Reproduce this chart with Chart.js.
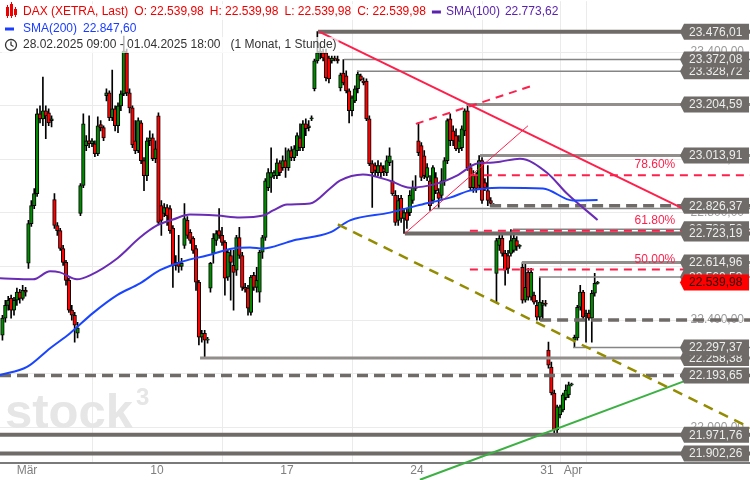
<!DOCTYPE html>
<html>
<head>
<meta charset="utf-8">
<script src="https://cdn.jsdelivr.net/npm/chart.js@4.4.1/dist/chart.umd.min.js"></script>
<style>
	html, body { margin: 0; padding: 0; background: #fff; }
	#wrap { width: 750px; height: 480px; }
</style>
</head>
<body>
<div id="wrap"><canvas id="dax"></canvas></div>
<script>
const FONT = '"Liberation Sans", Arial, sans-serif';

// DAX (XETRA), 1-Stunden-Kerzen 28.02.2025 09:00 - 01.04.2025 18:00, 9 Kerzen pro Tag
const opens = [
	22344, 22407, 22455, 22481, 22437, 22474, 22504, 22481, 22511, // 28.02
	22612, 22760, 22827, 22872, 23170, 23151, 23181, 23173, 23144, // 03.03
	22850, 22753, 22734, 22667, 22615, 22548, 22437, 22418, 22351, // 04.03
	22798, 22902, 23051, 23069, 23058, 23058, 23021, 23129, 23118, // 05.03
	23237, 23248, 23155, 23188, 23125, 23199, 23244, 23397, 23248, // 06.03
	23192, 23069, 23032, 23136, 22995, 22939, 23069, 23080, 23002, // 07.03
	23162, 22827, 22798, 22820, 22816, 22742, 22604, 22615, 22600, // 10.03
	22679, 22772, 22727, 22705, 22667, 22541, 22336, 22351, 22325, // 11.03
	22519, 22649, 22697, 22734, 22716, 22690, 22560, 22641, 22604, // 12.03
	22586, 22708, 22641, 22522, 22519, 22429, 22567, 22522, 22504, // 13.03
	22653, 22708, 22894, 22932, 22939, 22939, 22987, 22969, 22995, // 14.03
	22969, 23032, 23006, 23032, 23080, 23043, 23132, 23118, 23151, // 17.03
	23263, 23367, 23397, 23397, 23397, 23378, 23367, 23378, 23374, // 18.03
	23266, 23322, 23311, 23255, 23181, 23218, 23263, 23311, 23292, // 19.03
	23292, 23151, 22984, 22976, 22950, 22976, 22965, 22950, 22987, // 20.03
	22920, 22865, 22772, 22854, 22779, 22801, 22801, 22846, 22891, // 21.03
	23069, 23051, 23013, 22932, 22920, 22846, 22932, 22876, 22865, // 24.03
	22920, 22995, 23151, 23106, 23088, 23039, 23043, 23106, 23181, // 25.03
	22969, 22894, 22939, 22902, 22995, 22913, 22883, 22846, 22830, // 26.03
	22574, 22679, 22705, 22649, 22641, 22649, 22660, 22697, 22675, // 27.03
	22597, 22474, 22578, 22485, 22493, 22455, 22411, 22455, 22463, // 28.03
	22288, 22225, 22128, 21990, 22046, 22065, 22110, 22121, 22158, // 31.03
	22325, 22333, 22448, 22504, 22418, 22426, 22407, 22500, 22537  // 01.04
];
const highs = [
	22418, 22474, 22489, 22493, 22485, 22519, 22515, 22530, 22522,
	22772, 22846, 22891, 23188, 23199, 23307, 23199, 23188, 23162,
	22872, 22764, 22742, 22679, 22623, 22556, 22455, 22429, 22392,
	22909, 23170, 23088, 23162, 23077, 23069, 23158, 23144, 23125,
	23263, 23255, 23333, 23199, 23211, 23255, 23460, 23411, 23263,
	23199, 23144, 23155, 23144, 23006, 23080, 23106, 23095, 23069,
	23173, 22846, 22835, 22831, 22827, 22753, 22641, 22716, 22630,
	22835, 22786, 22738, 22712, 22679, 22548, 22362, 22362, 22336,
	22615, 22723, 22734, 22816, 22746, 22697, 22660, 22660, 22660,
	22716, 22746, 22653, 22537, 22530, 22567, 22578, 22597, 22660,
	22716, 22928, 22965, 23043, 22958, 23002, 22995, 23013, 23043,
	23039, 23047, 23051, 23099, 23132, 23144, 23151, 23144, 23162,
	23374, 23476.01, 23434, 23411, 23411, 23385, 23385, 23385, 23385,
	23322, 23372.08, 23330, 23263, 23237, 23274, 23328.72, 23318, 23304,
	23300, 23162, 22995, 22987, 22995, 22987, 22976, 23013, 23043,
	22995, 22883, 22865, 22865, 22816, 22816, 22883, 22920, 22939,
	23136, 23062, 23032, 22984, 22939, 22976, 22950, 22891, 22965,
	23006, 23151, 23170, 23125, 23114, 23088, 23125, 23188, 23204.59,
	22984, 22958, 22950, 23013.91, 23006, 22928, 22976, 22857, 22835,
	22705, 22716, 22716, 22660, 22660, 22738, 22716, 22712, 22682,
	22614.96, 22612, 22593, 22593, 22504, 22474, 22560, 22474, 22474,
	22318, 22243, 22139, 22083, 22083, 22128, 22158, 22169, 22165,
	22344, 22455, 22530, 22511, 22437, 22437, 22511, 22574, 22545
];
const lows = [
	22325, 22392, 22437, 22407, 22418, 22455, 22463, 22474, 22489,
	22593, 22749, 22816, 22861, 23136, 23125, 23077, 23125, 23121,
	22742, 22716, 22660, 22604, 22530, 22429, 22400, 22318, 22333,
	22790, 22894, 23032, 23043, 23047, 23010, 23013, 23106, 23069,
	23218, 23144, 23144, 23106, 23099, 23181, 23237, 23237, 23173,
	23043, 23021, 23025, 22984, 22883, 22920, 23051, 22995, 22987,
	22757, 22716, 22786, 22753, 22723, 22522, 22586, 22578, 22586,
	22667, 22705, 22686, 22649, 22511, 22307, 22318, 22258.38, 22314,
	22504, 22612, 22679, 22705, 22679, 22493, 22548, 22474, 22437,
	22567, 22630, 22511, 22504, 22418, 22418, 22511, 22504, 22467,
	22630, 22697, 22883, 22876, 22928, 22928, 22939, 22958, 22932,
	22958, 22995, 22995, 23013, 23032, 23032, 23088, 23106, 23144,
	23255, 23359, 23374, 23367, 23292, 23285, 23359, 23367, 23359,
	23255, 23277, 23248, 23136, 23162, 23211, 23248, 23292, 23277,
	23144, 22976, 22820, 22939, 22939, 22932, 22939, 22939, 22976,
	22865, 22753, 22753, 22764, 22723.19, 22742, 22790, 22835, 22883,
	23013, 22920, 22928, 22920, 22809, 22835, 22872, 22820, 22854,
	22902, 22984, 23051, 23051, 23032, 23025, 23032, 23088, 22958,
	22883, 22876, 22876, 22891, 22835, 22883, 22827, 22824, 22826.37,
	22467, 22660, 22638, 22530, 22574, 22638, 22653, 22660, 22667,
	22463, 22467, 22474, 22474, 22459, 22400, 22400, 22400, 22452,
	22221, 22121, 21971.76, 21979, 22035, 22057, 22102, 22110, 22154,
	22297.37, 22325, 22437, 22400, 22318, 22400, 22318, 22489, 22534
];
const closes = [
	22407, 22455, 22474, 22437, 22474, 22504, 22481, 22511, 22504,
	22760, 22827, 22872, 23170, 23151, 23181, 23162, 23136, 23151,
	22753, 22734, 22667, 22615, 22548, 22437, 22418, 22381, 22370,
	22902, 23132, 23069, 23058, 23069, 23021, 23125, 23118, 23080,
	23248, 23155, 23188, 23125, 23199, 23244, 23404, 23248, 23192,
	23054, 23032, 23144, 22995, 22939, 23069, 23080, 23002, 23039,
	22764, 22772, 22820, 22790, 22734, 22604, 22615, 22600, 22612,
	22779, 22716, 22697, 22660, 22541, 22336, 22351, 22325, 22329,
	22612, 22705, 22723, 22716, 22690, 22556, 22653, 22615, 22578,
	22708, 22641, 22522, 22515, 22444, 22560, 22522, 22548, 22653,
	22708, 22920, 22950, 22950, 22950, 22987, 22950, 22995, 22969,
	23032, 23006, 23039, 23088, 23043, 23132, 23114, 23125, 23155,
	23367, 23397, 23404, 23378, 23304, 23300, 23378, 23374, 23367,
	23315, 23285, 23255, 23181, 23229, 23263, 23318, 23296, 23285,
	23151, 22984, 22950, 22958, 22976, 22950, 22954, 22995, 23013,
	22872, 22764, 22846, 22779, 22801, 22772, 22865, 22894, 22894,
	23025, 22932, 22939, 22969, 22827, 22969, 22883, 22854, 22920,
	22995, 23144, 23069, 23069, 23039, 23069, 23114, 23181, 22969,
	22894, 22939, 22891, 22995, 22846, 22894, 22846, 22835, 22828,
	22697, 22705, 22649, 22586, 22593, 22697, 22705, 22675, 22677,
	22474, 22522, 22485, 22578, 22467, 22411, 22467, 22463, 22459,
	22232, 22128, 21990, 22076, 22076, 22121, 22139, 22158, 22162,
	22336, 22448, 22504, 22411, 22426, 22407, 22500, 22537, 22539.98
];

// Achse: Tagesanfang (Kerzen-Index)
const tickValues = [9, 54, 99, 144, 189, 198];
const tickLabels = ['Mär', '10', '17', '24', '31', 'Apr'];

// gleitende Durchschnitte
const sma100X = [-0.35, 11.1, 17.0, 20.4, 26.3, 30.8, 40.2, 48.1, 54.0, 59.5, 65.4, 74.8, 82.7, 90.7, 94.2, 99.0, 107.0, 113.9, 117.3, 125.3, 134.6, 141.6, 150.9, 157.8, 164.8, 169.3, 172.7, 179.6, 189.0, 195.9, 206.5];
const sma100Y = [22556, 22552, 22582, 22578, 22552, 22567, 22630, 22708, 22753, 22775, 22794, 22790, 22783, 22790, 22809, 22831, 22835, 22891, 22920, 22943, 22920, 22894, 22909, 22939, 22984, 22987, 22991, 23002, 22950, 22872, 22773.62];
const sma200X = [-0.35, 9.0, 17.0, 23.9, 31.8, 40.2, 48.1, 55.0, 63.0, 71.3, 80.3, 86.2, 90.7, 99.0, 101.1, 113.9, 120.8, 134.6, 144.0, 155.4, 162.3, 172.7, 187.6, 198.0, 206.5];
const sma200Y = [22195, 22225, 22295, 22351, 22426, 22493, 22537, 22586, 22619, 22641, 22667, 22671, 22667, 22690, 22697, 22727, 22772, 22801, 22827, 22857, 22883, 22894, 22891, 22846, 22847.60];

// horizontale Marken
const levelPrices = [23476.01, 23372.08, 23328.72, 23204.59, 23013.91, 22826.37, 22816, 22738.52, 22723.19, 22614.96, 22560.53, 22400, 22297.37, 22258.38, 22193.65, 21971.76, 21902.26];
const levelStarts = [109.7, 118.7, 123.2, 161.3, 165.8, 169.3, 149.5, 177.2, 139.8, 180.3, 186.2, 186.6, 198.0, 68.9, -0.35, -0.35, -0.35];
const levelKinds = ['heavy', 'thin', 'thin', 'mid', 'mid', 'dash', 'thin', 'thin', 'heavy', 'mid', 'thin', 'dash', 'thin', 'mid', 'dash', 'heavy', 'heavy'];

// Preis-Schilder rechts (verdeckte zuerst)
const tagPrices = [23328.72, 22738.52, 22560.53, 22258.38, 23476.01, 23372.08, 23204.59, 23013.91, 22826.37, 22723.19, 22614.96, 22297.37, 22193.65, 21971.76, 21902.26];

// Fibonacci
const fibPrices = [22940.81, 22733.64, 22588.30];
const fibLabels = ['78.60%', '61.80%', '50.00%'];
const fibStart = 162.3;

// Trendlinien
const resistX = [110.1, 236.8], resistY = [23476.01, 22812];
const riseX = [139.8, 182.4], riseY = [22723.19, 23125];
const channelX = [143.6, 183.8], channelY = [23132, 23274];
const oliveX = [116.6, 259.3], oliveY = [22757, 21998];
const greenX = [145.0, 236.8], greenY = [21804, 22173];

const X_MIN = -0.346, X_MAX = 259.26;
const Y_MIN = 21866.7, Y_MAX = 23589.8;

function fmt(v) {
	let [a, b] = v.toFixed(2).split('.');
	a = a.replace(/\B(?=(\d{3})+(?!\d))/g, '.');
	return a + ',' + b;
}
function pts(xs, ys) { return xs.map((x, i) => ({ x: x, y: ys[i] })); }

const levelStyle = {
	heavy: { color: '#6f6b68', width: 4, dash: [] },
	mid: { color: '#918e8b', width: 3, dash: [] },
	thin: { color: '#858585', width: 1.5, dash: [] },
	dash: { color: '#6f6b68', width: 3.5, dash: [11, 6] }
};
const RED = '#ff1f4b';

const candleWicks = lows.map((l, i) => ({ x: i + 0.5, y: [l, highs[i]] }));
const candleBodies = opens.map((o, i) => ({ x: i + 0.5, y: [o, closes[i]] }));
const bodyColors = opens.map((o, i) => closes[i] >= o ? '#008a00' : '#ff0000');

function lineSet(data, color, width, dash, order, extra) {
	return Object.assign({
		type: 'line', data: data, borderColor: color, borderWidth: width, borderDash: dash || [],
		pointRadius: 0, fill: false, tension: 0, order: order
	}, extra || {});
}

const datasets = [
	{ type: 'bar', data: candleWicks, backgroundColor: '#000', barThickness: 1, grouped: false, order: 20 },
	{ type: 'bar', data: candleBodies, backgroundColor: bodyColors, borderColor: '#000', borderWidth: 1,
		borderSkipped: false, barThickness: 3.6, grouped: false, minBarLength: 1, order: 19 }
];
levelPrices.forEach((p, i) => {
	const s = levelStyle[levelKinds[i]];
	datasets.push(lineSet([{ x: levelStarts[i], y: p }, { x: X_MAX, y: p }], s.color, s.width, s.dash, 6));
});
fibPrices.forEach(p => {
	datasets.push(lineSet([{ x: fibStart, y: p }, { x: X_MAX, y: p }], RED, 2, [8, 6], 5));
});
datasets.push(lineSet(pts(sma200X, sma200Y), '#1a45ff', 2, [], 4, { cubicInterpolationMode: 'monotone' }));
datasets.push(lineSet(pts(sma100X, sma100Y), '#6a2bb5', 2, [], 4, { cubicInterpolationMode: 'monotone' }));
datasets.push(lineSet(pts(resistX, resistY), RED, 2, [], 3));
datasets.push(lineSet(pts(riseX, riseY), RED, 1, [], 3));
datasets.push(lineSet(pts(channelX, channelY), RED, 2, [8, 6], 3));
datasets.push(lineSet(pts(oliveX, oliveY), '#948c00', 2.5, [10, 7], 3));
datasets.push(lineSet(pts(greenX, greenY), '#3cb043', 2, [], 3, { clip: false }));

// Wasserzeichen
const watermark = {
	id: 'watermark',
	beforeDatasetsDraw(chart) {
		const ctx = chart.ctx, a = chart.chartArea;
		ctx.save();
		ctx.fillStyle = '#e6e6e6';
		ctx.textBaseline = 'alphabetic';
		ctx.font = 'bold 49px ' + FONT;
		ctx.fillText('stock', a.left + 5, a.bottom - 35);
		const w = ctx.measureText('stock').width;
		ctx.font = 'bold 24px ' + FONT;
		ctx.fillText('3', a.left + 8 + w, a.bottom - 58);
		ctx.restore();
	}
};

function drawTag(ctx, y, text, fill, color, right) {
	const x0 = right - 66, x1 = right - 1, h = 16;
	ctx.beginPath();
	ctx.moveTo(x0 - 4, y);
	ctx.lineTo(x0, y - h / 2);
	ctx.lineTo(x1, y - h / 2);
	ctx.lineTo(x1, y + h / 2);
	ctx.lineTo(x0, y + h / 2);
	ctx.closePath();
	ctx.fillStyle = fill;
	ctx.fill();
	ctx.fillStyle = color;
	ctx.textAlign = 'left';
	ctx.textBaseline = 'middle';
	ctx.fillText(text, x0 + 5, y + 0.5);
}

// Schilder, Fibonacci-Texte, Legende
const overlay = {
	id: 'overlay',
	afterDatasetsDraw(chart) {
		const ctx = chart.ctx, ys = chart.scales.y, xs = chart.scales.x;
		const right = chart.chartArea.right;
		ctx.save();
		ctx.font = '12px ' + FONT;
		fibPrices.forEach((p, i) => {
			ctx.fillStyle = RED;
			ctx.textAlign = 'right';
			ctx.textBaseline = 'middle';
			ctx.fillText(fibLabels[i], xs.getPixelForValue(233.4), ys.getPixelForValue(p) - 10);
		});
		tagPrices.forEach(p => drawTag(ctx, ys.getPixelForValue(p), fmt(p), '#6f6b68', '#eeeeee', right));
		const last = closes[closes.length - 1];
		drawTag(ctx, ys.getPixelForValue(last), fmt(last), '#ff0000', '#2a0000', right);
		ctx.restore();
	},
	afterDraw(chart) {
		const ctx = chart.ctx;
		const last = closes[closes.length - 1];
		ctx.save();
		ctx.font = '12px ' + FONT;
		ctx.textBaseline = 'middle';
		ctx.textAlign = 'left';
		const red = '#ee0000', purple = '#5b22b0', blue = '#1a3cff';
		const line1 = [['DAX (XETRA, Last)', red], ['O: ' + fmt(last), red], ['H: ' + fmt(last), red],
			['L: ' + fmt(last), red], ['C: ' + fmt(last), red]];
		function segWidth(segs, gap) {
			let w = 0;
			segs.forEach(s => { w += ctx.measureText(s[0]).width + gap; });
			return w;
		}
		// Zeile 1
		let x = 23, y = 12;
		const w1 = segWidth(line1, 6);
		const smaTxt = 'SMA(100)', smaVal = fmt(sma100Y[sma100Y.length - 1]);
		const w1b = 14 + ctx.measureText(smaTxt).width + 5 + ctx.measureText(smaVal).width;
		ctx.fillStyle = 'rgba(255,255,255,0.72)';
		ctx.fillRect(2, y - 8, x + w1 + w1b - 2, 16);
		line1.forEach(s => { ctx.fillStyle = s[1]; ctx.fillText(s[0], x, y); x += ctx.measureText(s[0]).width + 6; });
		ctx.fillStyle = purple;
		ctx.fillRect(x, y - 1.5, 9, 3);
		x += 14;
		ctx.fillText(smaTxt, x, y); x += ctx.measureText(smaTxt).width + 5;
		ctx.fillText(smaVal, x, y);
		// Icon DAX
		ctx.fillStyle = red;
		[[6, 7, 9], [10, 4, 12], [14, 9, 6]].forEach(c => {
			ctx.fillRect(c[0], c[1], 3, c[2]);
			ctx.fillRect(c[0] + 1, c[1] - 2, 1, c[2] + 4);
		});
		// Zeile 2
		y = 29; x = 23;
		const t2 = 'SMA(200)', v2 = fmt(sma200Y[sma200Y.length - 1]);
		ctx.fillStyle = 'rgba(255,255,255,0.72)';
		ctx.fillRect(2, y - 8, 23 + ctx.measureText(t2).width + 6 + ctx.measureText(v2).width, 16);
		ctx.fillStyle = blue;
		ctx.fillRect(5, y - 1.5, 9, 3);
		ctx.fillText(t2, x, y); x += ctx.measureText(t2).width + 6;
		ctx.fillText(v2, x, y);
		// Zeile 3
		y = 45; x = 23;
		const t3 = '28.02.2025 09:00 - 01.04.2025 18:00', t3b = '(1 Monat, 1 Stunde)';
		ctx.fillStyle = 'rgba(255,255,255,0.72)';
		ctx.fillRect(2, y - 8, 23 + ctx.measureText(t3).width + 10 + ctx.measureText(t3b).width, 16);
		ctx.fillStyle = '#333';
		ctx.fillText(t3, x, y); x += ctx.measureText(t3).width + 10;
		ctx.fillText(t3b, x, y);
		ctx.strokeStyle = '#333';
		ctx.lineWidth = 1.3;
		ctx.beginPath(); ctx.arc(11, y, 5.5, 0, Math.PI * 2); ctx.stroke();
		ctx.beginPath(); ctx.moveTo(11, y - 3.5); ctx.lineTo(11, y); ctx.lineTo(13.5, y + 1.5); ctx.stroke();
		ctx.restore();
	}
};

new Chart(document.getElementById('dax').getContext('2d'), {
	type: 'bar',
	data: { datasets: datasets },
	options: {
		responsive: true,
		maintainAspectRatio: false,
		animation: false,
		events: [],
		layout: { padding: 0 },
		plugins: { legend: { display: false }, tooltip: { enabled: false } },
		scales: {
			x: {
				type: 'linear', min: X_MIN, max: X_MAX, offset: false,
				grid: { color: '#ebebeb', drawTicks: false },
				border: { color: '#7a7a7a', width: 2 },
				afterBuildTicks: axis => { axis.ticks = tickValues.map(v => ({ value: v })); },
				afterFit: axis => { axis.height = 17; },
				ticks: {
					padding: 0, color: '#808080', autoSkip: false, maxRotation: 0,
					font: { size: 12, family: FONT },
					callback: v => tickLabels[tickValues.indexOf(v)] || ''
				}
			},
			y: {
				type: 'linear', position: 'right', min: Y_MIN, max: Y_MAX,
				grid: { color: '#ebebeb', drawTicks: false },
				border: { display: false },
				afterBuildTicks: axis => {
					const t = [];
					for (let v = 22000; v <= 23400; v += 200) t.push({ value: v });
					axis.ticks = t;
				},
				ticks: {
					mirror: true, padding: -6, color: '#9a9a9a',
					font: { size: 12, family: FONT },
					callback: v => fmt(v)
				}
			}
		}
	},
	plugins: [watermark, overlay]
});
</script>
</body>
</html>
